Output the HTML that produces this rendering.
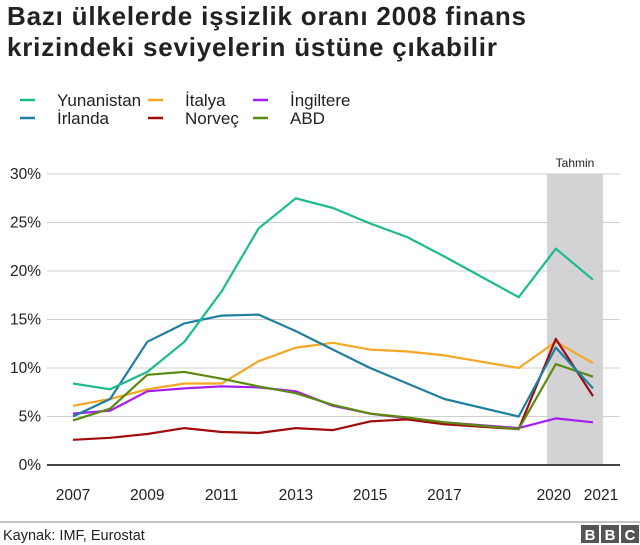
<!DOCTYPE html>
<html><head><meta charset="utf-8">
<style>
body{margin:0;background:#fff;font-family:"Liberation Sans",Arial,sans-serif;color:#222;}
#wrap{position:relative;width:640px;height:545px;overflow:hidden;}
h1{position:absolute;left:7px;top:1px;margin:0;font-size:26px;line-height:31px;font-weight:bold;color:#222;width:635px;letter-spacing:0.8px;white-space:nowrap;}
</style></head>
<body>
<div id="wrap">
<h1>Bazı ülkelerde işsizlik oranı 2008 finans<br>krizindeki seviyelerin üstüne çıkabilir</h1>
<svg id="svg" width="640" height="545" style="position:absolute;left:0;top:0"></svg>
</div>
<script>
const years=[2007,2008,2009,2010,2011,2012,2013,2014,2015,2016,2017,2019,2020,2021];
const greece=[8.4,7.8,9.6,12.7,17.9,24.4,27.5,26.5,24.9,23.5,21.5,17.3,22.3,19.1];
const ireland=[5.0,6.8,12.7,14.6,15.4,15.5,13.8,11.9,10.0,8.4,6.8,5.0,12.1,7.9];
const italy=[6.1,6.8,7.8,8.4,8.4,10.7,12.1,12.6,11.9,11.7,11.3,10.0,12.7,10.5];
const uk=[5.3,5.6,7.6,7.9,8.1,8.0,7.6,6.1,5.3,4.8,4.4,3.8,4.8,4.4];
const norway=[2.6,2.8,3.2,3.8,3.4,3.3,3.8,3.6,4.5,4.7,4.2,3.7,13.0,7.1];
const usa=[4.6,5.8,9.3,9.6,8.9,8.1,7.4,6.2,5.3,4.9,4.4,3.7,10.4,9.1];
const yTicks=[0,5,10,15,20,25,30];
const xTickYears=[2007,2009,2011,2013,2015,2017,2020,2021];
const seriesNames=["Yunanistan","İtalya","İngiltere","İrlanda","Norveç","ABD"];
const seriesColors=["#1abc8c","#f5a623","#a51ef0","#1f7fa0","#a00c0c","#5b8a12"];

const svg=document.getElementById('svg');
const NS='http://www.w3.org/2000/svg';
function X(yr){return 73+(yr-2007)*37.14;}
function Y(v){return 465-v*9.7;}
function mk(tag,attrs,parent){const e=document.createElementNS(NS,tag);for(const k in attrs)e.setAttribute(k,attrs[k]);(parent||svg).appendChild(e);return e;}

let sh=mk('rect',{x:547,y:Y(30),width:56,height:Y(0)-Y(30),fill:'#d3d3d5'});


let st=mk('text',{x:575,y:167,'text-anchor':'middle','font-size':12,fill:'#222'});
st.textContent='Tahmin';



yTicks.forEach(t=>{
  let g=mk('line',{x1:47,x2:620,y1:Y(t),y2:Y(t),stroke:t===0?'#444':'#cfcfcf','stroke-width':t===0?2:1});
  
  
  let tx=mk('text',{x:41,y:Y(t)+5,'text-anchor':'end','font-size':15.5,fill:'#222'});
  tx.textContent=t+'%';
  
  
});
xTickYears.forEach(yr=>{
  let off=yr===2020?-2:(yr===2021?8:0);
  let tx=mk('text',{x:X(yr)+off,y:500,'text-anchor':'middle','font-size':15.5,fill:'#222'});
  tx.textContent=yr;
  
  
});

const allSeries=[italy,uk,norway,usa,ireland,greece];
const allColors=["#f5a623","#a51ef0","#a00c0c","#5b8a12","#1f7fa0","#1abc8c"];
const allNames=["italy-line","uk-line","norway-line","usa-line","ireland-line","greece-line"];
allSeries.forEach((s,i)=>{
  const d=s.map((v,j)=>(j?'L':'M')+X(years[j]).toFixed(1)+','+Y(v).toFixed(1)).join(' ');
  let p=mk('path',{d:d,fill:'none',stroke:allColors[i],'stroke-width':2.2,'stroke-linejoin':'round'});
  
  
});

const legPos=[[20,57,100],[148,185,100],[253,290,100],[20,57,118],[148,185,118],[253,290,118]];
seriesNames.forEach((n,i)=>{
  const [sx,tx,y]=legPos[i];
  let g=mk('g',{});
  
  
  mk('line',{x1:sx,x2:sx+15,y1:y,y2:y,stroke:seriesColors[i],'stroke-width':2.5},g);
  let t=mk('text',{x:tx,y:y+6,'font-size':17,fill:'#222'},g);
  t.textContent=n;
});

let fl=mk('line',{x1:0,x2:640,y1:522,y2:522,stroke:'#888','stroke-width':1});


let src=mk('text',{x:3,y:540,'font-size':14.5,fill:'#222'});
src.textContent='Kaynak: IMF, Eurostat';


let logo=mk('g',{});


['B','B','C'].forEach((c,i)=>{
  mk('rect',{x:581+i*20,y:525,width:18,height:18,fill:'#555'},logo);
  let t=mk('text',{x:590+i*20,y:540,'text-anchor':'middle','font-size':15,'font-weight':'bold',fill:'#fff'},logo);
  t.textContent=c;
});
</script>
</body></html>
